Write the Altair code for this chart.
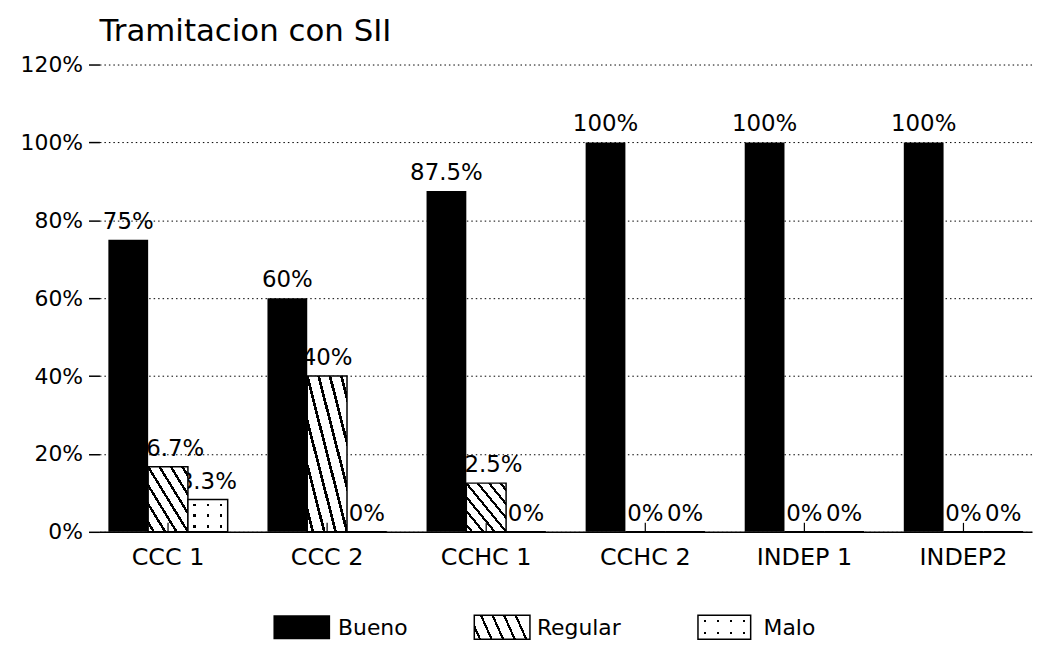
import altair as alt
import pandas as pd

# ---- data ----
categories = ["CCC 1", "CCC 2", "CCHC 1", "CCHC 2", "INDEP 1", "INDEP2"]
series = ["Bueno", "Regular", "Malo"]
bueno = [75, 60, 87.5, 100, 100, 100]
regular = [16.7, 40, 12.5, 0, 0, 0]
malo = [8.3, 0, 0, 0, 0, 0]
y_ticks = [0, 20, 40, 60, 80, 100, 120]
title_text = "Tramitacion con SII"

rows = []
for s, vals in zip(series, [bueno, regular, malo]):
    for c, v in zip(categories, vals):
        rows.append({"cat": c, "series": s, "value": v})
df = pd.DataFrame(rows)

# ---- style ----
W, H = 938, 470
FONT = "DejaVu Sans"


def stripes(n, width, x1, y1, x2, y2, line="black", bg="white"):
    stops = [{"offset": 0, "color": bg}]
    for i in range(n):
        c = (i + 0.5) / n
        a, b = round(max(c - width / 2, 0), 4), round(min(c + width / 2, 1), 4)
        stops += [
            {"offset": a, "color": bg},
            {"offset": a, "color": line},
            {"offset": b, "color": line},
            {"offset": b, "color": bg},
        ]
    stops.append({"offset": 1, "color": bg})
    return {"gradient": "linear", "x1": x1, "y1": y1, "x2": x2, "y2": y2, "stops": stops}


hatch_fill = stripes(7, 0.035, 0, 1, 1, 0)
dots_cols = stripes(3, 0.06, 0, 0, 1, 0)
dots_rows = stripes(3, 0.08, 0, 0, 0, 1, line="rgba(255,255,255,0)", bg="white")
legend_hatch = stripes(5, 0.04, 0, 1, 1, 0.81)
legend_dots_cols = stripes(4, 0.04, 0, 0, 1, 0)
legend_dots_rows = stripes(2, 0.1, 0, 0, 0, 1, line="rgba(255,255,255,0)", bg="white")

x_enc = alt.X(
    "cat:N",
    sort=categories,
    scale=alt.Scale(domain=categories, paddingInner=0.25, paddingOuter=0.056),
    axis=alt.Axis(
        title=None, labelAngle=0, labelFont=FONT, labelFontSize=24, labelColor="black",
        labelPadding=14, ticks=False, domain=True, domainColor="black", domainWidth=1.5,
        grid=False,
    ),
)
xo_enc = alt.XOffset("series:N", sort=series,
                     scale=alt.Scale(domain=series, paddingInner=0, paddingOuter=0))
y_enc = alt.Y(
    "value:Q",
    scale=alt.Scale(domain=[0, 120], nice=False),
    axis=alt.Axis(
        values=y_ticks, title=None, labelExpr="datum.value + '%'", labelFont=FONT,
        labelFontSize=22, labelColor="black", labelPadding=6, tickSize=11,
        tickColor="black", tickWidth=1.5, domain=False, grid=True, gridColor="black",
        gridDash=[1.5, 3], gridWidth=1,
    ),
)

base = alt.Chart(df).encode(x=x_enc, xOffset=xo_enc, y=y_enc)

labels = base.transform_calculate(
    label="format(datum.value, '.1~f') + '%'"
).mark_text(
    baseline="alphabetic", dy=-11, fontSize=23, font=FONT, color="black", align="center"
).encode(text="label:N")

bars_b = base.transform_filter(alt.datum.series == "Bueno").mark_bar(fill="black")
bars_r = base.transform_filter(alt.datum.series == "Regular").mark_bar(
    fill=hatch_fill, stroke="black", strokeWidth=1.5)
bars_m1 = base.transform_filter(alt.datum.series == "Malo").mark_bar(fill=dots_cols)
bars_m2 = base.transform_filter(alt.datum.series == "Malo").mark_bar(
    fill=dots_rows, stroke="black", strokeWidth=1.5)

ticks = alt.Chart(pd.DataFrame({"cat": categories})).mark_rule(
    color="black", strokeWidth=1.2
).encode(x=x_enc, y=alt.value(H - 9), y2=alt.value(H))

# ---- manual legend ----
legend_pos = {"Bueno": (175, 232, 240), "Regular": (377, 433, 440), "Malo": (602, 655, 668)}
ly0, ly1 = 554, 578
leg_df = pd.DataFrame({"series": series})
legend_layers = []
for s in series:
    x0, x1, xt = legend_pos[s]
    src = alt.Chart(leg_df).transform_filter(alt.datum.series == s)
    if s == "Bueno":
        fills = [("black", None)]
    elif s == "Regular":
        fills = [(legend_hatch, "black")]
    else:
        fills = [(legend_dots_cols, None), (legend_dots_rows, "black")]
    for f, st in fills:
        kw = {"fill": f}
        if st:
            kw.update(stroke=st, strokeWidth=1.5)
        legend_layers.append(
            src.mark_rect(**kw).encode(
                x=alt.value(x0), x2=alt.value(x1), y=alt.value(ly0), y2=alt.value(ly1)
            )
        )
    legend_layers.append(
        src.mark_text(align="left", baseline="middle", fontSize=22, font=FONT,
                      color="black").encode(
            x=alt.value(xt), y=alt.value((ly0 + ly1) / 2 + 1), text="series:N"
        )
    )

chart = alt.layer(
    labels, bars_b, bars_r, bars_m1, bars_m2, ticks, *legend_layers
).properties(
    width=W,
    height=H,
    title=alt.Title(title_text, anchor="start", frame="group", font=FONT, fontSize=31,
                    fontWeight="normal", color="black", offset=6),
    autosize=alt.AutoSizeParams(type="none"),
    padding={"left": 92, "top": 55, "right": 4, "bottom": 112},
).configure(background="white").configure_view(stroke=None, strokeWidth=0)

chart.save("out.html", embed_options={"renderer": "svg", "actions": False})
